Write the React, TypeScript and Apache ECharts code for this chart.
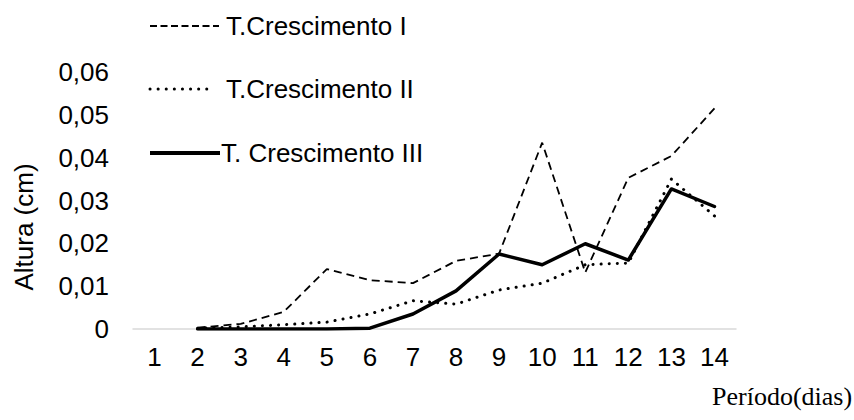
import React, { useEffect, useRef } from "react";
import * as echarts from "echarts";

const categories = ["1", "2", "3", "4", "5", "6", "7", "8", "9", "10", "11", "12", "13", "14"];
const serieI = [null, 0.0003, 0.0012, 0.004, 0.014, 0.0114, 0.0107, 0.0159, 0.0176, 0.0435, 0.0132, 0.0353, 0.0404, 0.0515];
const serieII = [null, 0.0002, 0.0005, 0.001, 0.0016, 0.0035, 0.0066, 0.0058, 0.0091, 0.0107, 0.015, 0.0154, 0.035, 0.0264];
const serieIII = [null, 0, 0, 0, 0, 0.0002, 0.0035, 0.0089, 0.0175, 0.015, 0.0199, 0.0161, 0.0327, 0.0286];
const seriesNames = ["T.Crescimento I", "T.Crescimento II", "T. Crescimento III"];
const xTitle = "Período(dias)";
const yTitle = "Altura (cm)";

const FONT = "Liberation Sans, Arial, sans-serif";
const SERIF = "Liberation Serif, Times New Roman, serif";

const dashI = [7, 3.5];
const dashII = [0.1, 8];

export default function App() {
  const ref = useRef<HTMLDivElement>(null);
  useEffect(() => {
    if (!ref.current) return;
    document.body.style.margin = "0";
    const chart = echarts.init(ref.current, null, { renderer: "svg" });
    const legendRows = [
      { y: 26, x2: 219, tx: 226, style: { lineWidth: 1.8, lineDash: dashI } },
      { y: 89, x2: 213, tx: 226, style: { lineWidth: 3, lineDash: dashII, lineCap: "round" } },
      { y: 153, x2: 220, tx: 221, style: { lineWidth: 4 } },
    ];
    const graphic: any[] = [];
    legendRows.forEach((r, i) => {
      graphic.push({
        type: "line",
        shape: { x1: 150, y1: r.y, x2: r.x2, y2: r.y },
        style: { stroke: "#000", ...r.style },
      });
      graphic.push({
        type: "text",
        x: r.tx,
        y: r.y,
        style: {
          text: seriesNames[i],
          font: `26px ${FONT}`,
          fill: "#000",
          verticalAlign: "middle",
          align: "left",
        },
      });
    });
    graphic.push({
      type: "text",
      x: 712,
      y: 396,
      style: { text: xTitle, font: `26px ${SERIF}`, fill: "#000", verticalAlign: "middle", align: "left" },
    });
    graphic.push({
      type: "text",
      x: 24,
      y: 227,
      rotation: Math.PI / 2,
      style: { text: yTitle, font: `26px ${FONT}`, fill: "#000", verticalAlign: "middle", align: "center" },
    });

    chart.setOption({
      animation: false,
      graphic,
      grid: { left: 133, right: 118, top: 72, bottom: 91 },
      xAxis: {
        type: "category",
        data: categories,
        boundaryGap: true,
        axisLine: { lineStyle: { color: "#d9d9d9", width: 1.5 } },
        axisTick: { show: false },
        axisLabel: { fontFamily: FONT, fontSize: 26, color: "#000", margin: 15 },
      },
      yAxis: {
        type: "value",
        min: 0,
        max: 0.06,
        interval: 0.01,
        splitLine: { show: false },
        axisLine: { show: false },
        axisTick: { show: false },
        axisLabel: {
          fontFamily: FONT,
          fontSize: 26,
          color: "#000",
          margin: 24,
          formatter: (v: number) => (v === 0 ? "0" : v.toFixed(2).replace(".", ",")),
        },
      },
      series: [
        {
          name: seriesNames[0],
          type: "line",
          data: serieI,
          symbol: "none",
          lineStyle: { color: "#000", width: 1.8, type: [8, 5] },
        },
        {
          name: seriesNames[1],
          type: "line",
          data: serieII,
          symbol: "none",
          lineStyle: { color: "#000", width: 3, type: dashII, cap: "round" },
        },
        {
          name: seriesNames[2],
          type: "line",
          data: serieIII,
          symbol: "none",
          lineStyle: { color: "#000", width: 3.5, cap: "round", join: "round" },
        },
      ],
    });
    return () => chart.dispose();
  }, []);
  return <div ref={ref} style={{ width: 854, height: 420 }} />;
}
